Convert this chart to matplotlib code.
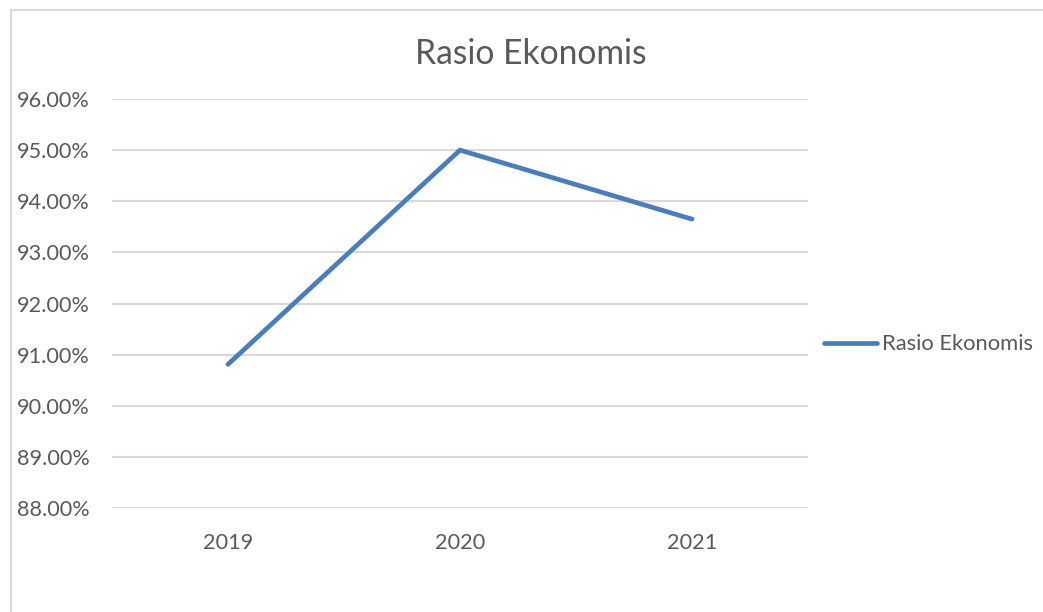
import matplotlib
matplotlib.use("Agg")
import matplotlib.pyplot as plt
from matplotlib.patches import Rectangle
from matplotlib.ticker import FuncFormatter

years = ["2019", "2020", "2021"]
rasio = [0.9081, 0.9500, 0.9365]
y_ticks = [0.88, 0.89, 0.90, 0.91, 0.92, 0.93, 0.94, 0.95, 0.96]

plt.rcParams['font.family'] = ['Lato', 'DejaVu Sans']
txt = '#595959'
grid = '#d9d9d9'
blue = '#4a7ebb'

fig = plt.figure(figsize=(10.43, 6.12), dpi=100)
# outer chart border (only top/left visible in the original)
fig.patches.append(Rectangle((11 / 1043, -0.05), 1.2, 1 - 10 / 612 + 0.05,
                             transform=fig.transFigure, fill=False,
                             edgecolor=grid, linewidth=1.5))

ax = fig.add_axes([112 / 1043, 1 - 508 / 612, 696 / 1043, 409 / 612])
x = range(len(years))
ax.plot(x, rasio, color=blue, linewidth=3.4, solid_capstyle='round',
        solid_joinstyle='miter', label='Rasio Ekonomis', zorder=3)

ax.set_xlim(-0.5, len(years) - 0.5)
ax.set_ylim(0.88, 0.96)
ax.set_yticks(y_ticks)
ax.yaxis.set_major_formatter(FuncFormatter(lambda v, p: f"{v * 100:.2f}%"))
ax.set_xticks(list(x))
ax.set_xticklabels(years)

ax.grid(axis='y', color=grid, linewidth=1.5)
ax.set_axisbelow(True)
for s in ax.spines.values():
    s.set_visible(False)
ax.tick_params(axis='both', length=0, labelsize=15.6, labelcolor=txt)
ax.tick_params(axis='y', pad=16)
ax.tick_params(axis='x', pad=18)

fig.text(531 / 1043, 1 - 54 / 612, 'Rasio Ekonomis', ha='center', va='center',
         fontsize=24.2, color=txt)

leg = ax.legend(loc='center left', bbox_to_anchor=(0.995, 0.4), frameon=False,
                fontsize=15.8, handlelength=2.4, handletextpad=0.25)
for t in leg.get_texts():
    t.set_color(txt)

fig.savefig('out.png', dpi=100)
